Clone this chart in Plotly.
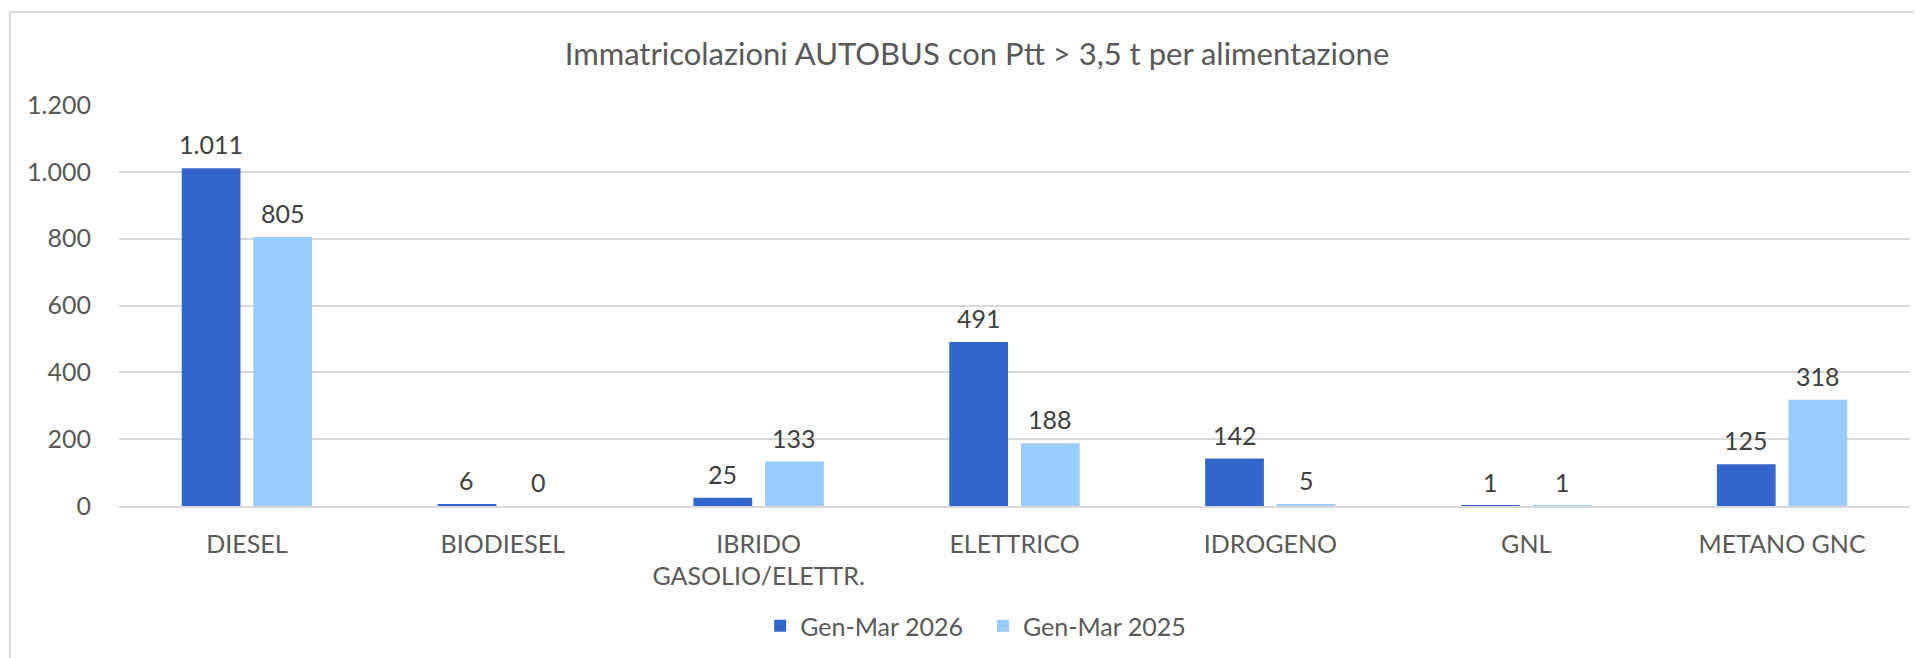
import plotly.graph_objects as go

categories = ["DIESEL", "BIODIESEL", "IBRIDO<br>GASOLIO/ELETTR.", "ELETTRICO", "IDROGENO", "GNL", "METANO GNC"]
series_2026 = [1011, 6, 25, 491, 142, 1, 125]
series_2025 = [805, 0, 133, 188, 5, 1, 318]
series_names = ["Gen-Mar 2026", "Gen-Mar 2025"]
y_ticks = [0, 200, 400, 600, 800, 1000, 1200]

COL_DARK = "#3366CC"
COL_LIGHT = "#99CCFF"
FONT = "Lato"

fig = go.Figure()
fig.add_trace(go.Bar(x=categories, y=series_2026, name=series_names[0], legend="legend",
                     marker=dict(color=COL_DARK, line=dict(width=0))))
fig.add_trace(go.Bar(x=categories, y=series_2025, name=series_names[1], legend="legend2",
                     marker=dict(color=COL_LIGHT, line=dict(width=0))))

# value labels above each bar (offset left/right to the grouped bar slot)
slot_px = 35.8
for vals, xs in ((series_2026, -slot_px), (series_2025, slot_px)):
    for c, v in zip(categories, vals):
        fig.add_annotation(x=c, y=v, text=f"{v:,}".replace(",", "."), showarrow=False,
                           xshift=xs, yshift=24, yanchor="middle",
                           font=dict(family=FONT, size=25, color="#404040"))

# chart frame
fig.add_shape(type="rect", xref="paper", yref="paper", x0=-0.0609, x1=1.003, y0=-0.6, y1=1.232,
              line=dict(color="#d9d9d9", width=2), fillcolor="rgba(0,0,0,0)", layer="below")

W, H = 1914, 650
legend_common = dict(orientation="h", xanchor="left",
                     yref="container", y=1 - (626 - 8) / H, yanchor="middle",
                     font=dict(family=FONT, size=25, color="#595959"), itemwidth=30,
                     bgcolor="rgba(0,0,0,0)")
fig.update_layout(
    width=W, height=H,
    margin=dict(l=111, r=12, t=97, b=152),
    paper_bgcolor="white", plot_bgcolor="white",
    separators=",.",
    barmode="group", bargap=0.44, bargroupgap=0.18,
    font=dict(family=FONT, color="#595959"),
    title=dict(text="Immatricolazioni AUTOBUS con Ptt > 3,5 t per alimentazione",
               x=(977 - 8) / W, xanchor="center", y=1 - (54 - 8) / H, yanchor="middle",
               font=dict(family=FONT, size=31, color="#595959")),
    legend=dict(x=0.358, **legend_common),
    legend2=dict(x=0.4824, **legend_common),
    showlegend=True,
)
fig.update_yaxes(range=[0, 1200], tickvals=y_ticks, tickformat=",d",
                 showgrid=True, gridcolor="#d9d9d9", gridwidth=1.5,
                 zeroline=False, showline=False,
                 ticks="outside", ticklen=22, tickcolor="rgba(0,0,0,0)",
                 tickfont=dict(family=FONT, size=25, color="#595959"))
fig.update_xaxes(showgrid=False, showline=True, linecolor="#d9d9d9", linewidth=1.5,
                 ticks="outside", ticklen=15, tickcolor="rgba(0,0,0,0)",
                 tickfont=dict(family=FONT, size=25, color="#595959"))

fig.write_html("out.html")
